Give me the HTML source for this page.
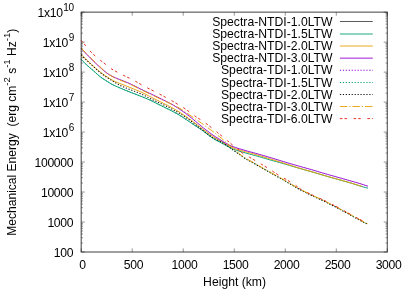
<!DOCTYPE html>
<html><head><meta charset="utf-8"><title>plot</title>
<style>html,body{margin:0;padding:0;background:#fff}body{width:415px;height:291px;overflow:hidden;font-family:"Liberation Sans",sans-serif}</style>
</head><body>
<svg width="415" height="291" viewBox="0 0 415 291" style="display:block;will-change:transform;opacity:0.999;filter:blur(0.3px)">
<g font-family="Liberation Sans, sans-serif" font-size="12.2" fill="#000">
<path d="M81.20,252.0 v-3.6 M81.20,12.15 v3.6 M132.22,252.0 v-3.6 M132.22,12.15 v3.6 M183.23,252.0 v-3.6 M183.23,12.15 v3.6 M234.25,252.0 v-3.6 M234.25,12.15 v3.6 M285.27,252.0 v-3.6 M285.27,12.15 v3.6 M336.28,252.0 v-3.6 M336.28,12.15 v3.6 M387.30,252.0 v-3.6 M387.30,12.15 v3.6 M81.2,252.00 h3.6 M387.3,252.00 h-3.6 M81.2,242.97 h1.8 M387.3,242.97 h-1.8 M81.2,237.70 h1.8 M387.3,237.70 h-1.8 M81.2,233.95 h1.8 M387.3,233.95 h-1.8 M81.2,231.04 h1.8 M387.3,231.04 h-1.8 M81.2,228.67 h1.8 M387.3,228.67 h-1.8 M81.2,226.66 h1.8 M387.3,226.66 h-1.8 M81.2,224.92 h1.8 M387.3,224.92 h-1.8 M81.2,223.39 h1.8 M387.3,223.39 h-1.8 M81.2,222.02 h3.6 M387.3,222.02 h-3.6 M81.2,212.99 h1.8 M387.3,212.99 h-1.8 M81.2,207.71 h1.8 M387.3,207.71 h-1.8 M81.2,203.97 h1.8 M387.3,203.97 h-1.8 M81.2,201.06 h1.8 M387.3,201.06 h-1.8 M81.2,198.69 h1.8 M387.3,198.69 h-1.8 M81.2,196.68 h1.8 M387.3,196.68 h-1.8 M81.2,194.94 h1.8 M387.3,194.94 h-1.8 M81.2,193.41 h1.8 M387.3,193.41 h-1.8 M81.2,192.04 h3.6 M387.3,192.04 h-3.6 M81.2,183.01 h1.8 M387.3,183.01 h-1.8 M81.2,177.73 h1.8 M387.3,177.73 h-1.8 M81.2,173.99 h1.8 M387.3,173.99 h-1.8 M81.2,171.08 h1.8 M387.3,171.08 h-1.8 M81.2,168.71 h1.8 M387.3,168.71 h-1.8 M81.2,166.70 h1.8 M387.3,166.70 h-1.8 M81.2,164.96 h1.8 M387.3,164.96 h-1.8 M81.2,163.43 h1.8 M387.3,163.43 h-1.8 M81.2,162.06 h3.6 M387.3,162.06 h-3.6 M81.2,153.03 h1.8 M387.3,153.03 h-1.8 M81.2,147.75 h1.8 M387.3,147.75 h-1.8 M81.2,144.01 h1.8 M387.3,144.01 h-1.8 M81.2,141.10 h1.8 M387.3,141.10 h-1.8 M81.2,138.73 h1.8 M387.3,138.73 h-1.8 M81.2,136.72 h1.8 M387.3,136.72 h-1.8 M81.2,134.98 h1.8 M387.3,134.98 h-1.8 M81.2,133.45 h1.8 M387.3,133.45 h-1.8 M81.2,132.07 h3.6 M387.3,132.07 h-3.6 M81.2,123.05 h1.8 M387.3,123.05 h-1.8 M81.2,117.77 h1.8 M387.3,117.77 h-1.8 M81.2,114.02 h1.8 M387.3,114.02 h-1.8 M81.2,111.12 h1.8 M387.3,111.12 h-1.8 M81.2,108.75 h1.8 M387.3,108.75 h-1.8 M81.2,106.74 h1.8 M387.3,106.74 h-1.8 M81.2,105.00 h1.8 M387.3,105.00 h-1.8 M81.2,103.47 h1.8 M387.3,103.47 h-1.8 M81.2,102.09 h3.6 M387.3,102.09 h-3.6 M81.2,93.07 h1.8 M387.3,93.07 h-1.8 M81.2,87.79 h1.8 M387.3,87.79 h-1.8 M81.2,84.04 h1.8 M387.3,84.04 h-1.8 M81.2,81.14 h1.8 M387.3,81.14 h-1.8 M81.2,78.76 h1.8 M387.3,78.76 h-1.8 M81.2,76.76 h1.8 M387.3,76.76 h-1.8 M81.2,75.02 h1.8 M387.3,75.02 h-1.8 M81.2,73.48 h1.8 M387.3,73.48 h-1.8 M81.2,72.11 h3.6 M387.3,72.11 h-3.6 M81.2,63.09 h1.8 M387.3,63.09 h-1.8 M81.2,57.81 h1.8 M387.3,57.81 h-1.8 M81.2,54.06 h1.8 M387.3,54.06 h-1.8 M81.2,51.16 h1.8 M387.3,51.16 h-1.8 M81.2,48.78 h1.8 M387.3,48.78 h-1.8 M81.2,46.78 h1.8 M387.3,46.78 h-1.8 M81.2,45.04 h1.8 M387.3,45.04 h-1.8 M81.2,43.50 h1.8 M387.3,43.50 h-1.8 M81.2,42.13 h3.6 M387.3,42.13 h-3.6 M81.2,33.11 h1.8 M387.3,33.11 h-1.8 M81.2,27.83 h1.8 M387.3,27.83 h-1.8 M81.2,24.08 h1.8 M387.3,24.08 h-1.8 M81.2,21.18 h1.8 M387.3,21.18 h-1.8 M81.2,18.80 h1.8 M387.3,18.80 h-1.8 M81.2,16.79 h1.8 M387.3,16.79 h-1.8 M81.2,15.06 h1.8 M387.3,15.06 h-1.8 M81.2,13.52 h1.8 M387.3,13.52 h-1.8 M81.2,12.15 h3.6 M387.3,12.15 h-3.6" stroke="#000" stroke-width="0.7" stroke-opacity="0.6" fill="none"/>
<path d="M81.2,59.50 L83.2,61.53 L85.2,63.50 L87.2,65.38 L89.2,67.15 L91.2,68.86 L93.2,70.56 L95.2,72.35 L97.2,74.19 L99.2,75.93 L101.2,77.48 L103.2,78.86 L105.2,80.15 L107.2,81.42 L109.2,82.69 L111.2,83.89 L113.2,84.97 L115.2,85.90 L117.2,86.77 L119.2,87.61 L121.2,88.46 L123.2,89.30 L125.2,90.14 L127.2,90.96 L129.2,91.77 L131.2,92.56 L133.2,93.34 L135.2,94.10 L137.2,94.87 L139.2,95.64 L141.2,96.43 L143.2,97.23 L145.2,98.05 L147.2,98.89 L149.2,99.76 L151.2,100.68 L153.2,101.64 L155.2,102.64 L157.2,103.65 L159.2,104.67 L161.2,105.69 L163.2,106.68 L165.2,107.65 L167.2,108.62 L169.2,109.60 L171.2,110.60 L173.2,111.64 L175.2,112.73 L177.2,113.87 L179.2,115.06 L181.2,116.29 L183.2,117.55 L185.2,118.87 L187.2,120.24 L189.2,121.62 L191.2,122.98 L193.2,124.31 L195.2,125.61 L197.2,126.91 L199.2,128.22 L201.2,129.58 L203.2,131.01 L205.2,132.51 L207.2,134.06 L209.2,135.60 L211.2,137.08 L213.2,138.45 L215.2,139.68 L217.2,140.80 L219.2,141.85 L221.2,142.90 L223.2,143.98 L225.2,145.08 L227.2,146.15 L229.2,147.18 L231.2,148.15 L233.2,149.02 L235.2,149.80 L237.2,150.49 L239.2,151.11 L241.2,151.71 L243.2,152.28 L245.2,152.84 L247.2,153.41 L249.2,153.97 L251.2,154.51 L253.2,155.06 L255.2,155.60 L257.2,156.15 L259.2,156.72 L261.2,157.30 L263.2,157.89 L265.2,158.48 L267.2,159.07 L269.2,159.66 L271.2,160.24 L273.2,160.80 L275.2,161.36 L277.2,161.92 L279.2,162.47 L281.2,163.02 L283.2,163.58 L285.2,164.15 L287.2,164.73 L289.2,165.32 L291.2,165.93 L293.2,166.53 L295.2,167.14 L297.2,167.73 L299.2,168.31 L301.2,168.88 L303.2,169.44 L305.2,169.99 L307.2,170.55 L309.2,171.11 L311.2,171.68 L313.2,172.26 L315.2,172.85 L317.2,173.44 L319.2,174.04 L321.2,174.64 L323.2,175.23 L325.2,175.81 L327.2,176.39 L329.2,176.96 L331.2,177.52 L333.2,178.08 L335.2,178.65 L337.2,179.21 L339.2,179.77 L341.2,180.32 L343.2,180.88 L345.2,181.44 L347.2,182.00 L349.2,182.58 L351.2,183.17 L353.2,183.78 L355.2,184.42 L357.2,185.07 L359.2,185.72 L361.2,186.35 L363.2,186.95 L365.2,187.51 L367.2,187.96 L368.0,188.30" stroke="#009e73" stroke-width="0.95" fill="none" stroke-linejoin="round"/>
<path d="M81.2,54.70 L83.2,56.64 L85.2,58.57 L87.2,60.47 L89.2,62.34 L91.2,64.20 L93.2,66.03 L95.2,67.83 L97.2,69.59 L99.2,71.27 L101.2,72.85 L103.2,74.30 L105.2,75.67 L107.2,76.99 L109.2,78.28 L111.2,79.52 L113.2,80.65 L115.2,81.64 L117.2,82.50 L119.2,83.27 L121.2,84.02 L123.2,84.80 L125.2,85.58 L127.2,86.38 L129.2,87.18 L131.2,87.98 L133.2,88.78 L135.2,89.58 L137.2,90.39 L139.2,91.23 L141.2,92.12 L143.2,93.07 L145.2,94.07 L147.2,95.12 L149.2,96.17 L151.2,97.20 L153.2,98.21 L155.2,99.21 L157.2,100.20 L159.2,101.20 L161.2,102.20 L163.2,103.20 L165.2,104.19 L167.2,105.18 L169.2,106.19 L171.2,107.23 L173.2,108.32 L175.2,109.48 L177.2,110.69 L179.2,111.96 L181.2,113.27 L183.2,114.62 L185.2,115.99 L187.2,117.39 L189.2,118.81 L191.2,120.27 L193.2,121.76 L195.2,123.28 L197.2,124.82 L199.2,126.36 L201.2,127.89 L203.2,129.41 L205.2,130.92 L207.2,132.42 L209.2,133.90 L211.2,135.32 L213.2,136.67 L215.2,137.92 L217.2,139.09 L219.2,140.22 L221.2,141.38 L223.2,142.60 L225.2,143.86 L227.2,145.06 L229.2,146.13 L231.2,147.05 L233.2,147.86 L235.2,148.60 L237.2,149.27 L239.2,149.90 L241.2,150.49 L243.2,151.07 L245.2,151.64 L247.2,152.21 L249.2,152.76 L251.2,153.31 L253.2,153.85 L255.2,154.39 L257.2,154.95 L259.2,155.53 L261.2,156.13 L263.2,156.74 L265.2,157.36 L267.2,157.99 L269.2,158.61 L271.2,159.24 L273.2,159.86 L275.2,160.48 L277.2,161.10 L279.2,161.73 L281.2,162.35 L283.2,162.98 L285.2,163.62 L287.2,164.26 L289.2,164.91 L291.2,165.57 L293.2,166.23 L295.2,166.88 L297.2,167.51 L299.2,168.12 L301.2,168.72 L303.2,169.29 L305.2,169.86 L307.2,170.43 L309.2,171.00 L311.2,171.57 L313.2,172.16 L315.2,172.75 L317.2,173.35 L319.2,173.95 L321.2,174.54 L323.2,175.13 L325.2,175.71 L327.2,176.29 L329.2,176.86 L331.2,177.42 L333.2,177.98 L335.2,178.55 L337.2,179.11 L339.2,179.67 L341.2,180.22 L343.2,180.78 L345.2,181.34 L347.2,181.90 L349.2,182.48 L351.2,183.07 L353.2,183.67 L355.2,184.29 L357.2,184.93 L359.2,185.56 L361.2,186.12 L362.3,186.60" stroke="#e69f00" stroke-width="0.95" fill="none" stroke-linejoin="round"/>
<path d="M81.2,48.50 L83.2,50.63 L85.2,52.74 L87.2,54.82 L89.2,56.87 L91.2,58.89 L93.2,60.88 L95.2,62.81 L97.2,64.70 L99.2,66.53 L101.2,68.34 L103.2,70.11 L105.2,71.79 L107.2,73.28 L109.2,74.58 L111.2,75.72 L113.2,76.74 L115.2,77.67 L117.2,78.52 L119.2,79.32 L121.2,80.11 L123.2,80.89 L125.2,81.69 L127.2,82.50 L129.2,83.37 L131.2,84.29 L133.2,85.27 L135.2,86.28 L137.2,87.31 L139.2,88.34 L141.2,89.34 L143.2,90.31 L145.2,91.26 L147.2,92.19 L149.2,93.13 L151.2,94.07 L153.2,95.02 L155.2,95.98 L157.2,96.94 L159.2,97.92 L161.2,98.90 L163.2,99.90 L165.2,100.89 L167.2,101.90 L169.2,102.93 L171.2,103.99 L173.2,105.11 L175.2,106.29 L177.2,107.54 L179.2,108.85 L181.2,110.21 L183.2,111.62 L185.2,113.06 L187.2,114.56 L189.2,116.10 L191.2,117.70 L193.2,119.35 L195.2,121.04 L197.2,122.75 L199.2,124.46 L201.2,126.12 L203.2,127.74 L205.2,129.32 L207.2,130.87 L209.2,132.38 L211.2,133.84 L213.2,135.25 L215.2,136.59 L217.2,137.86 L219.2,139.09 L221.2,140.33 L223.2,141.61 L225.2,142.88 L227.2,144.06 L229.2,145.08 L231.2,145.94 L233.2,146.69 L235.2,147.39 L237.2,148.05 L239.2,148.68 L241.2,149.28 L243.2,149.86 L245.2,150.44 L247.2,151.01 L249.2,151.57 L251.2,152.11 L253.2,152.66 L255.2,153.20 L257.2,153.75 L259.2,154.32 L261.2,154.89 L263.2,155.47 L265.2,156.06 L267.2,156.65 L269.2,157.24 L271.2,157.84 L273.2,158.45 L275.2,159.06 L277.2,159.67 L279.2,160.29 L281.2,160.91 L283.2,161.52 L285.2,162.13 L287.2,162.72 L289.2,163.32 L291.2,163.90 L293.2,164.49 L295.2,165.07 L297.2,165.64 L299.2,166.21 L301.2,166.77 L303.2,167.33 L305.2,167.89 L307.2,168.44 L309.2,169.01 L311.2,169.58 L313.2,170.16 L315.2,170.75 L317.2,171.34 L319.2,171.94 L321.2,172.54 L323.2,173.13 L325.2,173.71 L327.2,174.29 L329.2,174.86 L331.2,175.42 L333.2,175.98 L335.2,176.55 L337.2,177.11 L339.2,177.67 L341.2,178.24 L343.2,178.80 L345.2,179.36 L347.2,179.93 L349.2,180.50 L351.2,181.07 L353.2,181.64 L355.2,182.21 L357.2,182.78 L359.2,183.37 L361.2,183.98 L363.2,184.63 L365.2,185.30 L367.2,185.91 L368.0,186.40" stroke="#9400d3" stroke-width="0.95" fill="none" stroke-linejoin="round"/>
<path d="M81.2,59.50 L83.2,61.53 L85.2,63.50 L87.2,65.38 L89.2,67.15 L91.2,68.86 L93.2,70.56 L95.2,72.35 L97.2,74.19 L99.2,75.93 L101.2,77.48 L103.2,78.86 L105.2,80.15 L107.2,81.42 L109.2,82.69 L111.2,83.89 L113.2,84.97 L115.2,85.90 L117.2,86.77 L119.2,87.61 L121.2,88.46 L123.2,89.30 L125.2,90.14 L127.2,90.96 L129.2,91.77 L131.2,92.56 L133.2,93.34 L135.2,94.10 L137.2,94.87 L139.2,95.64 L141.2,96.43 L143.2,97.23 L145.2,98.05 L147.2,98.89 L149.2,99.76 L151.2,100.68 L153.2,101.64 L155.2,102.64 L157.2,103.65 L159.2,104.67 L161.2,105.69 L163.2,106.68 L165.2,107.65 L167.2,108.62 L169.2,109.60 L171.2,110.60 L173.2,111.64 L175.2,112.73 L177.2,113.87 L179.2,115.06 L181.2,116.29 L183.2,117.55 L185.2,118.87 L187.2,120.24 L189.2,121.62 L191.2,122.98 L193.2,124.31 L195.2,125.61 L197.2,126.91 L199.2,128.22 L201.2,129.59 L203.2,131.04 L205.2,132.58 L207.2,134.17 L209.2,135.74 L211.2,137.20 L213.2,138.47 L215.2,139.51 L217.2,140.36 L219.2,141.16 L221.2,142.04 L223.2,143.12 L225.2,144.41 L227.2,145.82 L229.2,147.25 L231.2,148.69 L233.2,150.12 L235.2,151.52 L237.2,152.91 L239.2,154.29 L241.2,155.70 L243.2,157.11 L245.2,158.45 L247.2,159.67 L249.2,160.78 L251.2,161.84 L253.2,162.93 L255.2,164.05 L257.2,165.19 L259.2,166.36 L261.2,167.54 L263.2,168.70 L265.2,169.81 L267.2,170.90 L269.2,172.01 L271.2,173.16 L273.2,174.32 L275.2,175.44 L277.2,176.53 L279.2,177.62 L281.2,178.75 L283.2,179.90 L285.2,181.07 L287.2,182.24 L289.2,183.41 L291.2,184.58 L293.2,185.75 L295.2,186.94 L297.2,188.10 L299.2,189.23 L301.2,190.30 L303.2,191.32 L305.2,192.31 L307.2,193.31 L309.2,194.31 L311.2,195.29 L313.2,196.23 L315.2,197.12 L317.2,198.01 L319.2,198.90 L321.2,199.82 L323.2,200.75 L325.2,201.72 L327.2,202.73 L329.2,203.76 L331.2,204.78 L333.2,205.79 L335.2,206.80 L337.2,207.84 L339.2,208.92 L341.2,210.03 L343.2,211.13 L345.2,212.22 L347.2,213.29 L349.2,214.38 L351.2,215.49 L353.2,216.62 L355.2,217.73 L357.2,218.82 L359.2,219.89 L361.2,220.97 L363.2,222.06 L365.2,223.10 L367.2,223.94 L367.6,224.50" stroke="#009e73" stroke-width="1.00" fill="none" stroke-dasharray="1.2,1.74" stroke-linejoin="round"/>
<path d="M81.2,54.90 L83.2,56.89 L85.2,58.86 L87.2,60.81 L89.2,62.73 L91.2,64.63 L93.2,66.49 L95.2,68.31 L97.2,70.06 L99.2,71.72 L101.2,73.28 L103.2,74.77 L105.2,76.20 L107.2,77.57 L109.2,78.89 L111.2,80.16 L113.2,81.40 L115.2,82.63 L117.2,83.82 L119.2,84.93 L121.2,85.92 L123.2,86.82 L125.2,87.67 L127.2,88.48 L129.2,89.28 L131.2,90.06 L133.2,90.82 L135.2,91.57 L137.2,92.32 L139.2,93.10 L141.2,93.95 L143.2,94.89 L145.2,95.91 L147.2,96.99 L149.2,98.05 L151.2,99.05 L153.2,99.99 L155.2,100.90 L157.2,101.80 L159.2,102.70 L161.2,103.64 L163.2,104.60 L165.2,105.60 L167.2,106.62 L169.2,107.66 L171.2,108.72 L173.2,109.81 L175.2,110.93 L177.2,112.06 L179.2,113.22 L181.2,114.42 L183.2,115.65 L185.2,116.94 L187.2,118.30 L189.2,119.73 L191.2,121.21 L193.2,122.73 L195.2,124.28 L197.2,125.85 L199.2,127.42 L201.2,128.98 L203.2,130.54 L205.2,132.09 L207.2,133.65 L209.2,135.16 L211.2,136.58 L213.2,137.87 L215.2,139.01 L217.2,140.00 L219.2,140.95 L221.2,141.96 L223.2,143.12 L225.2,144.43 L227.2,145.83 L229.2,147.26 L231.2,148.69 L233.2,150.12 L235.2,151.52 L237.2,152.91 L239.2,154.29 L241.2,155.70 L243.2,157.11 L245.2,158.45 L247.2,159.67 L249.2,160.78 L251.2,161.84 L253.2,162.93 L255.2,164.05 L257.2,165.19 L259.2,166.36 L261.2,167.54 L263.2,168.70 L265.2,169.81 L267.2,170.90 L269.2,172.01 L271.2,173.16 L273.2,174.32 L275.2,175.44 L277.2,176.53 L279.2,177.62 L281.2,178.75 L283.2,179.90 L285.2,181.07 L287.2,182.24 L289.2,183.41 L291.2,184.58 L293.2,185.75 L295.2,186.94 L297.2,188.10 L299.2,189.23 L301.2,190.30 L303.2,191.32 L305.2,192.31 L307.2,193.31 L309.2,194.31 L311.2,195.29 L313.2,196.23 L315.2,197.12 L317.2,198.01 L319.2,198.90 L321.2,199.82 L323.2,200.75 L325.2,201.72 L327.2,202.73 L329.2,203.76 L331.2,204.78 L333.2,205.79 L335.2,206.80 L337.2,207.84 L339.2,208.92 L341.2,210.03 L343.2,211.13 L345.2,212.22 L347.2,213.29 L349.2,214.38 L351.2,215.49 L353.2,216.62 L355.2,217.73 L357.2,218.82 L359.2,219.89 L361.2,220.97 L363.2,222.06 L365.2,223.10 L367.2,223.94 L367.6,224.50" stroke="#111111" stroke-width="1.04" fill="none" stroke-dasharray="1.2,1.74" stroke-linejoin="round"/>
<path d="M81.2,48.00 L83.2,50.13 L85.2,52.24 L87.2,54.32 L89.2,56.37 L91.2,58.39 L93.2,60.38 L95.2,62.31 L97.2,64.19 L99.2,66.05 L101.2,67.92 L103.2,69.81 L105.2,71.63 L107.2,73.29 L109.2,74.74 L111.2,76.02 L113.2,77.16 L115.2,78.16 L117.2,79.04 L119.2,79.84 L121.2,80.61 L123.2,81.39 L125.2,82.19 L127.2,83.00 L129.2,83.87 L131.2,84.79 L133.2,85.77 L135.2,86.78 L137.2,87.81 L139.2,88.84 L141.2,89.84 L143.2,90.81 L145.2,91.76 L147.2,92.69 L149.2,93.63 L151.2,94.58 L153.2,95.54 L155.2,96.50 L157.2,97.47 L159.2,98.44 L161.2,99.41 L163.2,100.36 L165.2,101.29 L167.2,102.20 L169.2,103.11 L171.2,104.02 L173.2,104.96 L175.2,105.93 L177.2,106.95 L179.2,108.04 L181.2,109.22 L183.2,110.50 L185.2,111.87 L187.2,113.27 L189.2,114.67 L191.2,116.03 L193.2,117.39 L195.2,118.76 L197.2,120.15 L199.2,121.57 L201.2,123.00 L203.2,124.43 L205.2,125.86 L207.2,127.29 L209.2,128.73 L211.2,130.17 L213.2,131.67 L215.2,133.24 L217.2,134.87 L219.2,136.48 L221.2,138.06 L223.2,139.68 L225.2,141.41 L227.2,143.23 L229.2,145.04 L231.2,146.80 L233.2,148.55 L235.2,150.29 L237.2,152.00 L239.2,153.64 L241.2,155.19 L243.2,156.64 L245.2,157.97 L247.2,159.17 L249.2,160.28 L251.2,161.34 L253.2,162.43 L255.2,163.55 L257.2,164.69 L259.2,165.86 L261.2,167.04 L263.2,168.20 L265.2,169.31 L267.2,170.40 L269.2,171.51 L271.2,172.66 L273.2,173.82 L275.2,174.94 L277.2,176.03 L279.2,177.12 L281.2,178.25 L283.2,179.40 L285.2,180.57 L287.2,181.74 L289.2,182.91 L291.2,184.08 L293.2,185.25 L295.2,186.44 L297.2,187.60 L299.2,188.73 L301.2,189.80 L303.2,190.82 L305.2,191.81 L307.2,192.81 L309.2,193.81 L311.2,194.79 L313.2,195.73 L315.2,196.62 L317.2,197.51 L319.2,198.40 L321.2,199.32 L323.2,200.25 L325.2,201.22 L327.2,202.23 L329.2,203.26 L331.2,204.28 L333.2,205.29 L335.2,206.30 L337.2,207.34 L339.2,208.42 L341.2,209.53 L343.2,210.63 L345.2,211.72 L347.2,212.79 L349.2,213.88 L351.2,214.99 L353.2,216.12 L355.2,217.23 L357.2,218.32 L359.2,219.39 L361.2,220.47 L363.2,221.56 L365.2,222.60 L367.2,223.44 L367.6,224.00" stroke="#e69f00" stroke-width="0.95" fill="none" stroke-dasharray="7.4,2.0,1.2,2.0" stroke-linejoin="round"/>
<path d="M81.2,40.50 L83.2,42.81 L85.2,45.21 L87.2,47.66 L89.2,50.04 L91.2,52.22 L93.2,54.18 L95.2,55.98 L97.2,57.68 L99.2,59.32 L101.2,60.93 L103.2,62.51 L105.2,64.11 L107.2,65.72 L109.2,67.28 L111.2,68.71 L113.2,69.94 L115.2,71.05 L117.2,72.11 L119.2,73.17 L121.2,74.22 L123.2,75.22 L125.2,76.19 L127.2,77.14 L129.2,78.10 L131.2,79.08 L133.2,80.09 L135.2,81.15 L137.2,82.27 L139.2,83.43 L141.2,84.59 L143.2,85.70 L145.2,86.78 L147.2,87.82 L149.2,88.82 L151.2,89.79 L153.2,90.77 L155.2,91.79 L157.2,92.84 L159.2,93.91 L161.2,94.99 L163.2,96.08 L165.2,97.16 L167.2,98.22 L169.2,99.28 L171.2,100.37 L173.2,101.54 L175.2,102.77 L177.2,104.01 L179.2,105.19 L181.2,106.33 L183.2,107.51 L185.2,108.80 L187.2,110.24 L189.2,111.77 L191.2,113.31 L193.2,114.82 L195.2,116.25 L197.2,117.57 L199.2,118.84 L201.2,120.11 L203.2,121.43 L205.2,122.82 L207.2,124.29 L209.2,125.85 L211.2,127.46 L213.2,129.05 L215.2,130.64 L217.2,132.23 L219.2,133.86 L221.2,135.52 L223.2,137.22 L225.2,138.92 L227.2,140.61 L229.2,142.24 L231.2,143.84 L233.2,145.44 L235.2,147.09 L237.2,148.77 L239.2,150.46 L241.2,152.11 L243.2,153.60 L245.2,154.87 L247.2,155.97 L249.2,157.03 L251.2,158.14 L253.2,159.32 L255.2,160.54 L257.2,161.76 L259.2,162.96 L261.2,164.14 L263.2,165.31 L265.2,166.48 L267.2,167.70 L269.2,168.98 L271.2,170.31 L273.2,171.66 L275.2,172.98 L277.2,174.27 L279.2,175.49 L281.2,176.64 L283.2,177.77 L285.2,178.90 L287.2,180.05 L289.2,181.21 L291.2,182.39 L293.2,183.65 L295.2,185.07 L297.2,186.63 L299.2,188.16 L301.2,189.47 L303.2,190.55 L305.2,191.53 L307.2,192.52 L309.2,193.51 L311.2,194.49 L313.2,195.43 L315.2,196.32 L317.2,197.21 L319.2,198.10 L321.2,199.02 L323.2,199.95 L325.2,200.92 L327.2,201.93 L329.2,202.96 L331.2,203.98 L333.2,204.99 L335.2,206.00 L337.2,207.04 L339.2,208.12 L341.2,209.23 L343.2,210.33 L345.2,211.42 L347.2,212.49 L349.2,213.58 L351.2,214.69 L353.2,215.82 L355.2,216.93 L357.2,218.02 L359.2,219.09 L361.2,220.17 L363.2,221.26 L365.2,222.30 L367.2,223.14 L367.6,223.70" stroke="#e51e10" stroke-width="0.95" fill="none" stroke-dasharray="2.6,2.0,2.6,6.5" stroke-linejoin="round"/>
<rect x="81.2" y="12.15" width="306.1" height="239.85" fill="none" stroke="#000" stroke-width="1.15" stroke-opacity="0.66"/>
<text x="82.5" y="268.9" text-anchor="middle" letter-spacing="-0.3">0</text>
<text x="133.5" y="268.9" text-anchor="middle" letter-spacing="-0.3">500</text>
<text x="184.5" y="268.9" text-anchor="middle" letter-spacing="-0.3">1000</text>
<text x="235.6" y="268.9" text-anchor="middle" letter-spacing="-0.3">1500</text>
<text x="286.6" y="268.9" text-anchor="middle" letter-spacing="-0.3">2000</text>
<text x="337.6" y="268.9" text-anchor="middle" letter-spacing="-0.3">2500</text>
<text x="388.6" y="268.9" text-anchor="middle" letter-spacing="-0.3">3000</text>
<text x="73.3" y="256.9" text-anchor="end" letter-spacing="-0.3">100</text>
<text x="73.3" y="226.9" text-anchor="end" letter-spacing="-0.3">1000</text>
<text x="73.3" y="196.9" text-anchor="end" letter-spacing="-0.3">10000</text>
<text x="73.3" y="167.0" text-anchor="end" letter-spacing="-0.3">100000</text>
<text x="73.9" y="137.2" text-anchor="end" letter-spacing="-0.3">1x10<tspan font-size="10.00" dy="-5.8" dx="0.6">6</tspan></text>
<text x="73.9" y="107.2" text-anchor="end" letter-spacing="-0.3">1x10<tspan font-size="10.00" dy="-5.8" dx="0.6">7</tspan></text>
<text x="73.9" y="77.2" text-anchor="end" letter-spacing="-0.3">1x10<tspan font-size="10.00" dy="-5.8" dx="0.6">8</tspan></text>
<text x="73.9" y="47.2" text-anchor="end" letter-spacing="-0.3">1x10<tspan font-size="10.00" dy="-5.8" dx="0.6">9</tspan></text>
<text x="73.9" y="17.3" text-anchor="end" letter-spacing="-0.3">1x10<tspan font-size="10.00" dy="-5.8" dx="0.6">10</tspan></text>
<text x="234.6" y="285.8" text-anchor="middle">Height (km)</text>
<text transform="translate(15.6,132.2) rotate(-90)" font-size="12.05" text-anchor="middle" xml:space="preserve">Mechanical Energy  (erg cm<tspan font-size="9.6" dy="-5.8">-2</tspan><tspan dy="5.8"> s</tspan><tspan font-size="9.6" dy="-5.8">-1</tspan><tspan dy="5.8"> Hz</tspan><tspan font-size="9.6" dy="-5.8">-1</tspan><tspan dy="5.8">)</tspan></text>
<text x="332.5" y="25.70" text-anchor="end">Spectra-NTDI-1.0LTW</text>
<path d="M339.9,21.50 H372.8" stroke="#000000" stroke-width="0.65" fill="none"/>
<text x="332.5" y="37.86" text-anchor="end">Spectra-NTDI-1.5LTW</text>
<path d="M339.9,34.00 H372.8" stroke="#009e73" stroke-width="0.90" fill="none"/>
<text x="332.5" y="50.02" text-anchor="end">Spectra-NTDI-2.0LTW</text>
<path d="M339.9,46.00 H372.8" stroke="#e69f00" stroke-width="0.90" fill="none"/>
<text x="332.5" y="62.18" text-anchor="end">Spectra-NTDI-3.0LTW</text>
<path d="M339.9,58.15 H372.8" stroke="#9400d3" stroke-width="0.90" fill="none"/>
<text x="332.5" y="74.34" text-anchor="end">Spectra-TDI-1.0LTW</text>
<path d="M339.9,70.30 H372.8" stroke="#9400d3" stroke-width="1.05" fill="none" stroke-dasharray="1.2,1.74"/>
<text x="332.5" y="86.50" text-anchor="end">Spectra-TDI-1.5LTW</text>
<path d="M339.9,82.40 H372.8" stroke="#009e73" stroke-width="1.05" fill="none" stroke-dasharray="1.2,1.74"/>
<text x="332.5" y="98.66" text-anchor="end">Spectra-TDI-2.0LTW</text>
<path d="M339.9,94.45 H372.8" stroke="#111111" stroke-width="1.10" fill="none" stroke-dasharray="1.2,1.74"/>
<text x="332.5" y="110.82" text-anchor="end">Spectra-TDI-3.0LTW</text>
<path d="M339.9,106.50 H372.8" stroke="#e69f00" stroke-width="0.90" fill="none" stroke-dasharray="7.4,2.0,1.2,2.0"/>
<text x="332.5" y="122.98" text-anchor="end">Spectra-TDI-6.0LTW</text>
<path d="M339.9,118.60 H372.8" stroke="#e51e10" stroke-width="0.90" fill="none" stroke-dasharray="2.6,2.0,2.6,6.5"/>
</g></svg>
</body></html>
